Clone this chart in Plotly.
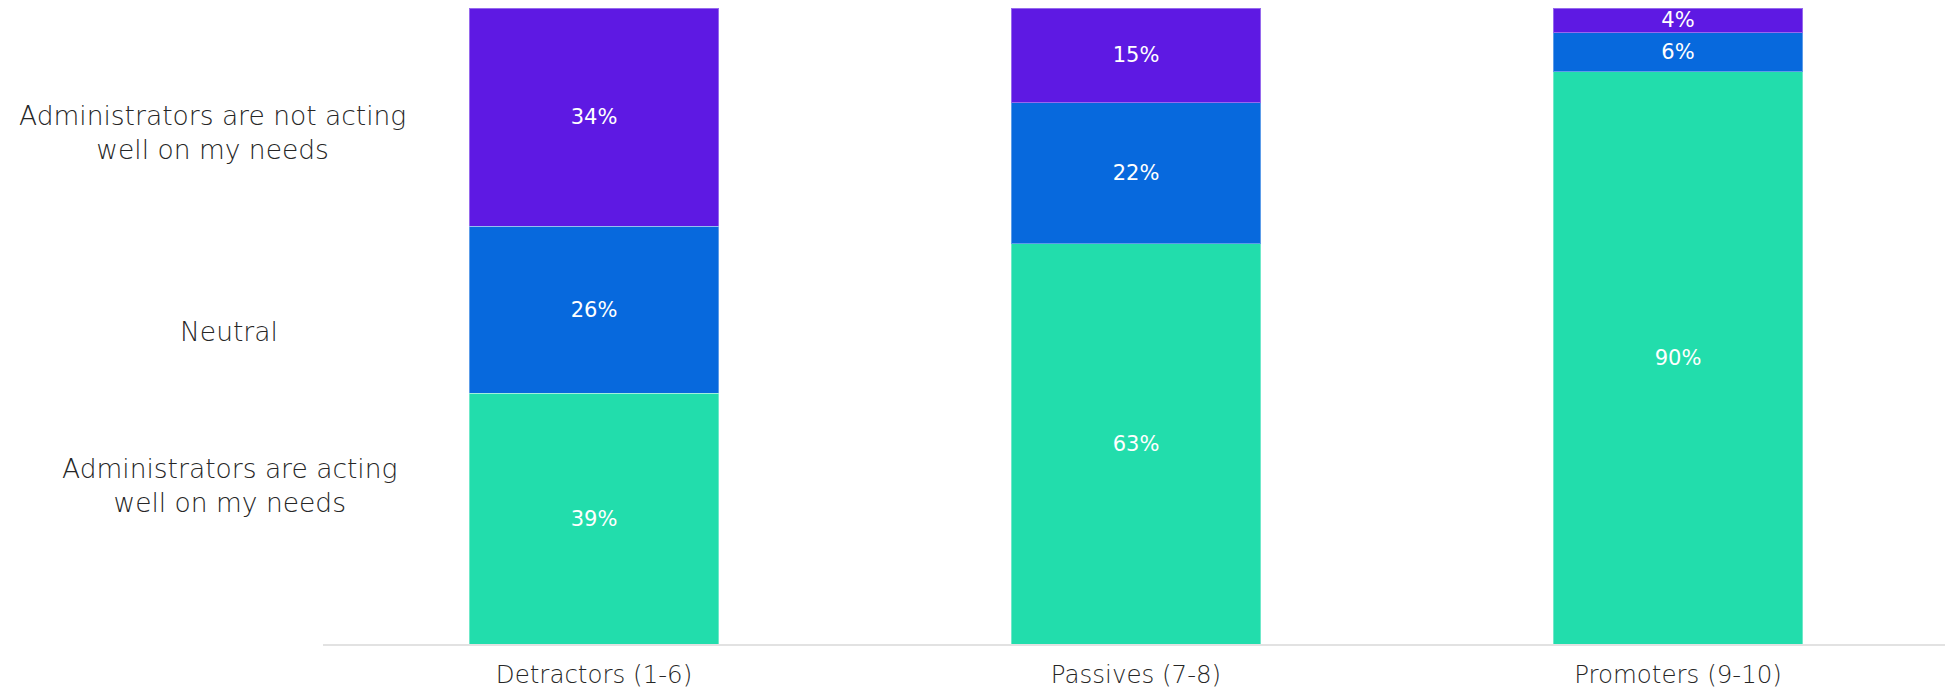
import plotly.graph_objects as go

categories = ["Detractors (1-6)", "Passives (7-8)", "Promoters (9-10)"]
acting_well = [39.4, 62.9, 90.0]
neutral = [26.3, 22.2, 6.1]
not_acting = [34.3, 14.9, 3.9]

series_names = [
    "Administrators are acting<br>well on my needs",
    "Neutral",
    "Administrators are not acting<br>well on my needs",
]
series_values = [acting_well, neutral, not_acting]
colors = ["#22DDAC", "#0769DD", "#5E19E3"]
label_y = [25.0, 49.1, 80.5]
label_x = [-0.0578, -0.0578, -0.0682]

FONT = "DejaVu Sans"
TEXT_COLOR = "#262626"

fig = go.Figure()
for name, vals, col in zip(series_names, series_values, colors):
    fig.add_trace(go.Bar(
        x=categories, y=vals, name=name.replace("<br>", " "),
        marker=dict(color=col, line=dict(color="rgba(255,255,255,0.35)", width=1)),
        texttemplate="%{y:.0f}%", textposition="inside",
        insidetextanchor="middle", constraintext="none",
        textfont=dict(color="white", size=21, family=FONT),
        hoverinfo="x+y+name",
    ))

for name, ly, lx in zip(series_names, label_y, label_x):
    fig.add_annotation(
        text=name, xref="paper", yref="y", x=lx, y=ly,
        xanchor="center", yanchor="middle", showarrow=False, align="center",
        font=dict(family=FONT, size=26.5, color=TEXT_COLOR, weight=200),
    )

fig.update_layout(
    barmode="stack",
    bargap=0.54,
    width=1945, height=685,
    margin=dict(l=315, r=4, t=0, b=49),
    plot_bgcolor="white", paper_bgcolor="white",
    showlegend=False,
    font=dict(family=FONT, color=TEXT_COLOR),
)
fig.update_xaxes(
    showline=True, linecolor="#e2e2e2", linewidth=2,
    ticks="outside", ticklen=8, tickcolor="rgba(0,0,0,0)",
    tickfont=dict(family=FONT, size=24.5, color=TEXT_COLOR, weight=200),
    showgrid=False,
)
fig.update_yaxes(range=[0, 100], visible=False, showgrid=False)

fig.write_html("out.html")
